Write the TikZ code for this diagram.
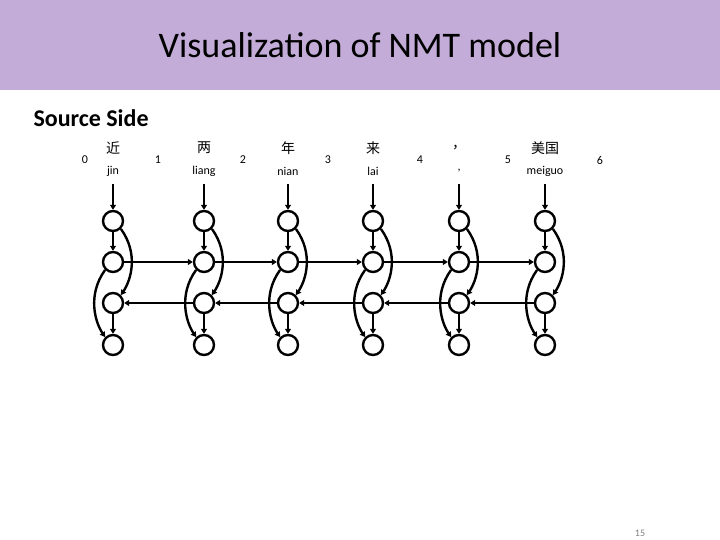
\documentclass[tikz,border=0pt]{standalone}
\usepackage{fontspec}
\setmainfont{Carlito}
\newfontfamily\cjk{Noto Sans CJK SC}
\usetikzlibrary{arrows.meta}
\begin{document}
\begin{tikzpicture}[x=1pt,y=-1pt,
  cell/.style={circle,draw,line width=2.4pt,minimum size=20pt,inner sep=0pt},
  conn/.style={line width=2.4pt,-{Triangle[length=5pt,width=6pt]}},
  lbl/.style={font=\fontsize{12}{13}\selectfont},
  num/.style={font=\fontsize{12}{13}\selectfont}]
\useasboundingbox (0,0) rectangle (720,540);
\fill[fill={rgb,255:red,195;green,172;blue,216}] (0,0) rectangle (720,90);
\node (title) at (360,45) {\fontsize{36}{40}\selectfont Visualization of NMT model};
\node[anchor=west] (src) at (30,118) {\fontsize{24}{28}\selectfont\bfseries Source Side};
\node[text=gray,anchor=south,inner sep=0pt] (pg) at (640,537) {\fontsize{10}{11}\selectfont 15};
\foreach \i/\x/\zh/\py in {1/113/近/jin,2/204/两/liang,3/288/年/nian,4/373/来/lai,5/459/{，}/{,},6/545/美国/meiguo}{
  \node[lbl] (zh\i) at (\x,148) {\cjk\fontsize{14}{15}\selectfont \zh};
  \node[lbl] (py\i) at (\x,171) {\py};
  \coordinate (in\i) at (\x,184);
  \node[cell] (a\i) at (\x,221) {};
  \node[cell] (b\i) at (\x,262) {};
  \node[cell] (c\i) at (\x,303) {};
  \node[cell] (d\i) at (\x,345) {};
  \draw[conn] (in\i) -- (a\i);
  \draw[conn] (a\i) -- (b\i);
  \draw[conn] (c\i) -- (d\i);
  \draw[conn] (a\i.south east) .. controls +(18,25) and +(10,-15) .. (c\i.north east);
  \draw[conn] (b\i.south west) .. controls +(-18,25) and +(-10,-15) .. (d\i.north west);
}
\foreach \i/\j in {1/2,2/3,3/4,4/5,5/6}{
  \draw[conn] (b\i) -- (b\j);
  \draw[conn] (c\j) -- (c\i);
}
\foreach \n/\x/\y in {0/85/160,1/158/160,2/243/160,3/328/160,4/420/160,5/508/160,6/600/160}{
  \node[num] (n\n) at (\x,\y) {\n};
}
\end{tikzpicture}
\end{document}
